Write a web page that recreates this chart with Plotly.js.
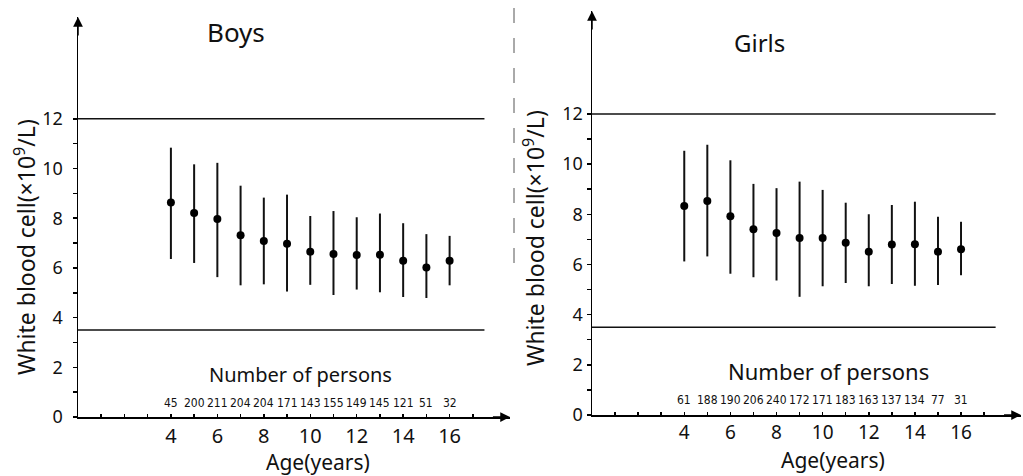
<!DOCTYPE html>
<html>
<head>
<meta charset="utf-8">
<script src="https://cdn.plot.ly/plotly-3.0.1.min.js"></script>
<style>html,body{margin:0;padding:0;background:#fff;}#chart{width:1023px;height:476px;}</style>
</head>
<body>
<div id="chart"></div>
<script>
// ---- data ----
const ages = [4, 5, 6, 7, 8, 9, 10, 11, 12, 13, 14, 15, 16];

const boysMean  = [8.63, 8.21, 7.97, 7.32, 7.08, 6.97, 6.65, 6.56, 6.52, 6.53, 6.29, 6.02, 6.29];
const boysUpper = [10.84, 10.17, 10.23, 9.31, 8.83, 8.95, 8.09, 8.29, 8.04, 8.19, 7.80, 7.36, 7.29];
const boysLower = [6.36, 6.20, 5.63, 5.30, 5.34, 5.05, 5.32, 4.91, 5.13, 5.02, 4.83, 4.79, 5.30];
const boysN     = [45, 200, 211, 204, 204, 171, 143, 155, 149, 145, 121, 51, 32];

const girlsMean  = [8.33, 8.53, 7.92, 7.40, 7.25, 7.05, 7.05, 6.86, 6.51, 6.79, 6.80, 6.51, 6.61];
const girlsUpper = [10.53, 10.77, 10.15, 9.21, 9.04, 9.30, 8.97, 8.46, 8.00, 8.37, 8.50, 7.90, 7.70];
const girlsLower = [6.12, 6.32, 5.63, 5.49, 5.36, 4.71, 5.13, 5.26, 5.13, 5.22, 5.15, 5.18, 5.57];
const girlsN     = [61, 188, 190, 206, 240, 172, 171, 183, 163, 137, 134, 77, 31];

const refUpper = 12;
const refLower = 3.5;
const xTickVals = [1,2,3,4,5,6,7,8,9,10,11,12,13,14,15,16,17];
const xTickText = ['','','','4','','6','','8','','10','','12','','14','','16',''];
const yTickVals = [0,1,2,3,4,5,6,7,8,9,10,11,12];
const yTickText = ['0','','2','','4','','6','','8','','10','','12'];

// ---- drawing ----
const FONT = '"Noto Sans", "Noto Sans CJK JP", sans-serif';
const NARROW = '"DejaVu Sans Condensed", "Liberation Sans Narrow", "Noto Sans", sans-serif';

function errTrace(mean, up, lo, xa, ya) {
  return {
    type: 'scatter', mode: 'markers', x: ages, y: mean, xaxis: xa, yaxis: ya,
    marker: {color: '#000', size: 8},
    error_y: {type: 'data', symmetric: false,
      array: up.map((v, i) => v - mean[i]),
      arrayminus: lo.map((v, i) => mean[i] - v),
      width: 0, thickness: 2, color: '#111'},
    showlegend: false, hoverinfo: 'skip'
  };
}

const data = [
  errTrace(boysMean, boysUpper, boysLower, 'x', 'y'),
  errTrace(girlsMean, girlsUpper, girlsLower, 'x2', 'y2')
];

function xax(domain, anchor, fs) {
  return {domain: domain, anchor: anchor, range: [0, 18.6], showgrid: false, zeroline: false,
    showline: true, linecolor: '#000', linewidth: 1.5,
    tickmode: 'array', tickvals: xTickVals, ticktext: xTickText, ticks: 'inside', ticklen: 3,
    tickcolor: '#000', tickwidth: 1.5, tickfont: {family: FONT, size: fs, color: '#111'}, fixedrange: true};
}
function yax(domain, anchor, standoff) {
  return {domain: domain, anchor: anchor, range: [0, 16.1], showgrid: false, zeroline: false,
    showline: true, linecolor: '#000', linewidth: 1.5,
    tickmode: 'array', tickvals: yTickVals, ticktext: yTickText, ticks: 'outside', ticklen: 4,
    ticklabelstandoff: standoff,
    tickcolor: '#000', tickwidth: 1.5, tickfont: {family: FONT, size: 18, color: '#111'}, fixedrange: true};
}

const annotations = [];
function numRow(counts, xr, yr, yv) {
  counts.forEach((n, i) => annotations.push({x: ages[i], y: yv, xref: xr, yref: yr, text: String(n),
    xanchor: 'center', yanchor: 'middle',
    showarrow: false, font: {family: NARROW, size: 12, color: '#111'}}));
}
numRow(boysN, 'x', 'y', 0.58);
numRow(girlsN, 'x2', 'y2', 0.6);

function arrows(xr, yr) {
  annotations.push({x: 18.6, y: 0, ax: 17.8, ay: 0, xref: xr, yref: yr, axref: xr, ayref: yr, text: '',
    showarrow: true, arrowhead: 2, arrowsize: 1.3, arrowwidth: 1.5, arrowcolor: '#000'});
  annotations.push({x: 0, y: 16.1, ax: 0, ay: 15.3, xref: xr, yref: yr, axref: xr, ayref: yr, text: '',
    showarrow: true, arrowhead: 2, arrowsize: 1.3, arrowwidth: 1.5, arrowcolor: '#000'});
}
arrows('x', 'y');
arrows('x2', 'y2');

const txt = (x, y, text, size, opts) => Object.assign({x: x / 1023, y: 1 - y / 476, xref: 'paper', yref: 'paper',
  xanchor: 'center', yanchor: 'middle',
  text: text, showarrow: false, font: {family: FONT, size: size, color: '#111'}}, opts || {});

annotations.push(txt(236, 32, 'Boys', 26));
annotations.push(txt(759, 42, 'Girls', 24));
annotations.push(txt(300, 374, 'Number of persons', 20));
annotations.push(txt(828, 371, 'Number of persons', 22));
annotations.push(txt(318, 462, 'Age(years)', 21));
annotations.push(txt(833, 460, 'Age(years)', 21));
annotations.push(txt(25, 247, 'White blood cell(×10<sup>9</sup>/L)', 23, {textangle: -90}));
annotations.push(txt(534, 238, 'White blood cell(×10<sup>9</sup>/L)', 23, {textangle: -90}));

const shapes = [];
function refLines(xr, yr) {
  [refUpper, refLower].forEach(v => shapes.push({type: 'line', xref: xr, yref: yr, x0: 0, x1: 17.5, y0: v, y1: v,
    line: {color: '#111', width: 1.5}}));
}
refLines('x', 'y');
refLines('x2', 'y2');
shapes.push({type: 'line', xref: 'paper', yref: 'paper', x0: 514 / 1023, x1: 514 / 1023, y0: 1 - 8 / 476, y1: 1 - 265 / 476,
  line: {color: '#555', width: 1, dash: 'longdash'}});

const layout = {
  width: 1023, height: 476, margin: {l: 0, r: 0, t: 0, b: 0},
  paper_bgcolor: '#fff', plot_bgcolor: '#fff',
  xaxis: xax([78 / 1023, 510 / 1023], 'y', 20),
  yaxis: yax([1 - 417 / 476, 1 - 17 / 476], 'x', 6),
  xaxis2: xax([592 / 1023, 1021 / 1023], 'y2', 19),
  yaxis2: yax([1 - 415 / 476, 1 - 11 / 476], 'x2', 0),
  annotations: annotations, shapes: shapes, showlegend: false
};

Plotly.newPlot('chart', data, layout, {staticPlot: true});
</script>
</body>
</html>
